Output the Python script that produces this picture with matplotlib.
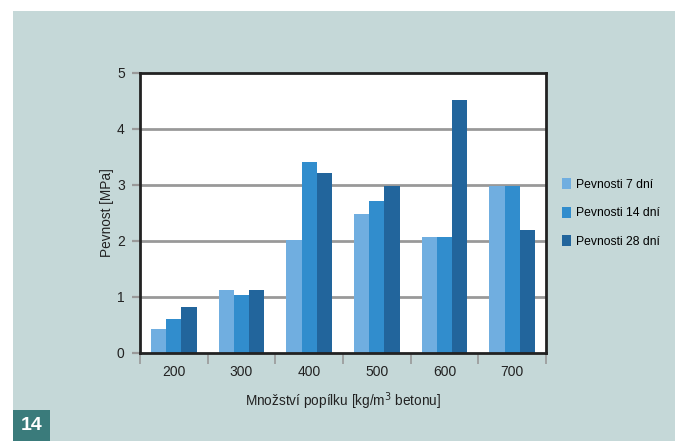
import matplotlib
matplotlib.use("Agg")
import matplotlib.pyplot as plt
from matplotlib.patches import Rectangle
import numpy as np

plt.rcParams['font.family'] = ['Liberation Sans', 'DejaVu Sans']

categories = ["200", "300", "400", "500", "600", "700"]
series_names = ["Pevnosti 7 dní", "Pevnosti 14 dní", "Pevnosti 28 dní"]
days_7 = [0.43, 1.12, 2.01, 2.48, 2.07, 2.99]
days_14 = [0.60, 1.03, 3.41, 2.71, 2.07, 2.99]
days_28 = [0.82, 1.12, 3.21, 2.98, 4.51, 2.19]
colors = ["#70aee0", "#318dcd", "#22659c"]
y_ticks = [0, 1, 2, 3, 4, 5]

panel = "#c5d8d8"
fig = plt.figure(figsize=(6.8, 4.41), dpi=100)
fig.patch.set_facecolor("white")

# background panel and page badge
fig.patches.append(Rectangle((13 / 680, 0), (675 - 13) / 680, 1 - 11 / 441,
                             transform=fig.transFigure, facecolor=panel,
                             edgecolor="none", zorder=-2))
fig.patches.append(Rectangle((13 / 680, 0), 37 / 680, 31 / 441,
                             transform=fig.transFigure, facecolor="#3a7b7b",
                             edgecolor="none", zorder=-1))
fig.text(31.5 / 680, 15 / 441, "14", color="white", fontsize=14,
         fontweight="semibold", ha="center", va="center", zorder=2)

ax = fig.add_axes([140 / 680, 1 - 353 / 441, 406 / 680, 280 / 441])
ax.set_zorder(3)
ax.set_facecolor("white")

x = np.arange(len(categories))
w = 0.225
for i, (vals, name) in enumerate(zip([days_7, days_14, days_28], series_names)):
    ax.bar(x + (i - 1) * w, vals, width=w, color=colors[i], label=name,
           zorder=3, linewidth=0)

ax.set_xlim(-0.5, len(categories) - 0.5)
ax.set_ylim(0, 5)
ax.set_yticks(y_ticks)
ax.set_yticklabels([str(t) for t in y_ticks], fontsize=10, color="#222222")
for t in y_ticks[1:-1]:
    ax.axhline(t, color="#999999", lw=2.0, zorder=1)

ax.set_xticks(x)
ax.set_xticklabels(categories, fontsize=10, color="#222222")
ax.tick_params(axis="x", which="major", length=0, pad=9)
ax.set_xticks(np.arange(-0.5, len(categories), 1.0), minor=True)
ax.tick_params(axis="x", which="minor", length=8, width=1.2, color="#999999",
               direction="out")
ax.tick_params(axis="y", length=6, width=1.6, color="#999999", pad=5)

for s in ax.spines.values():
    s.set_color("#222222")
    s.set_linewidth(2.0)
    s.set_zorder(5)

ax.set_ylabel("Pevnost [MPa]", fontsize=9.8, color="#222222", labelpad=2)
ax.set_xlabel("Množství popílku [kg/m$^3$ betonu]", fontsize=9.8,
              color="#222222", labelpad=8)

leg = fig.legend(loc="center left", bbox_to_anchor=(551 / 680, 1 - 213 / 441),
                 frameon=False, fontsize=8.7, handlelength=0.75, handleheight=1.0,
                 handletextpad=0.4, labelspacing=1.3)

fig.savefig("out.png", dpi=100, facecolor=fig.get_facecolor())
